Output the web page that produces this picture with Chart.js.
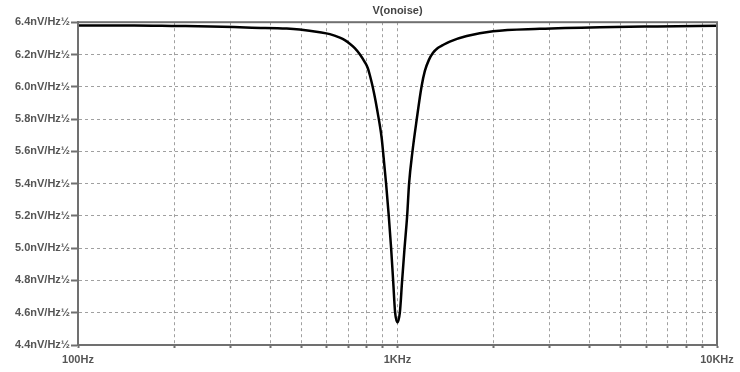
<!DOCTYPE html>
<html>
<head>
<meta charset="utf-8">
<title>V(onoise)</title>
<script src="https://cdn.jsdelivr.net/npm/chart.js@4.4.1/dist/chart.umd.min.js"></script>
<style>
  html, body { margin: 0; padding: 0; background: #fff; }
  canvas { display: block; }
</style>
</head>
<body>
<canvas id="noiseChart" width="740" height="372"></canvas>
<script>
// output noise trace (Hz -> nV/Hz½)
const freqs = [100, 150, 200, 260, 350, 450, 494, 571, 614, 660, 684, 709, 735, 762, 790, 807, 819, 831, 843, 855, 867, 880, 892, 901,
               921, 939, 955, 969, 983, 1000, 1017, 1034, 1052, 1072, 1087, 1114, 1149, 1189, 1218, 1253, 1290, 1337, 1386, 1458,
               1647, 1990, 2790, 4300, 6500, 10000];
const noise = [6.380, 6.380, 6.377, 6.374, 6.366, 6.361, 6.355, 6.338, 6.326, 6.304, 6.289, 6.267, 6.240, 6.202, 6.153, 6.116, 6.073, 6.023, 5.968, 5.906, 5.838, 5.764, 5.684, 5.600,
               5.400, 5.200, 5.000, 4.800, 4.600, 4.540, 4.600, 4.800, 5.000, 5.200, 5.400, 5.600, 5.800, 6.000, 6.098, 6.165, 6.209, 6.240, 6.258, 6.280,
               6.314, 6.344, 6.359, 6.369, 6.374, 6.378];

// axis ticks
const xGrid = [100, 200, 300, 400, 500, 600, 700, 800, 900, 1000, 2000, 3000, 4000, 5000, 6000, 7000, 8000, 9000, 10000];
const xLabels = { 100: '100Hz', 1000: '1KHz', 10000: '10KHz' };
const yTicks = [4.4, 4.6, 4.8, 5.0, 5.2, 5.4, 5.6, 5.8, 6.0, 6.2, 6.4];
const yUnit = 'nV/Hz½';

const axisColor = '#707070';
const textColor = '#555555';
const tickFont = { family: "'Liberation Sans', Arial, sans-serif", size: 11, weight: 'bold' };

// LTspice style box around the plot area
const framePlugin = {
    id: 'frame',
    afterDatasetsDraw(chart) {
        const { ctx, chartArea: a } = chart;
        ctx.save();
        ctx.strokeStyle = axisColor;
        ctx.lineWidth = 2;
        ctx.strokeRect(a.left, a.top, a.right - a.left, a.bottom - a.top);
        ctx.restore();
    }
};

const ctx = document.getElementById('noiseChart').getContext('2d');
const noiseChart = new Chart(ctx, {
    type: 'line',
    data: {
        datasets: [{
            label: 'V(onoise)',
            data: freqs.map((f, i) => ({ x: f, y: noise[i] })),
            borderColor: '#000000',
            borderWidth: 2.5,
            pointRadius: 0,
            cubicInterpolationMode: 'monotone',
            fill: false
        }]
    },
    options: {
        responsive: false,
        animation: false,
        devicePixelRatio: 1,
        layout: { padding: { left: 0, right: 23, top: 0, bottom: 0 } },
        plugins: {
            legend: { display: false },
            tooltip: { enabled: false },
            title: {
                display: true,
                text: 'V(onoise)',
                fullSize: false,
                color: '#444444',
                font: { family: "'Liberation Sans', Arial, sans-serif", size: 11, weight: 'bold' },
                padding: { top: 4, bottom: 5 }
            }
        },
        scales: {
            x: {
                type: 'logarithmic',
                min: 100,
                max: 10000,
                afterBuildTicks: (scale) => { scale.ticks = xGrid.map(v => ({ value: v })); },
                afterFit: (scale) => { scale.height = 27; },
                ticks: {
                    autoSkip: false,
                    maxRotation: 0,
                    padding: 5,
                    color: textColor,
                    font: tickFont,
                    callback: (v) => xLabels[v] || ''
                },
                grid: { color: '#a0a0a0', lineWidth: 1, tickLength: 3, tickColor: axisColor, tickWidth: 2 },
                border: { display: true, color: axisColor, width: 2, dash: [3, 3] }
            },
            y: {
                min: 4.4,
                max: 6.4,
                afterBuildTicks: (scale) => { scale.ticks = yTicks.map(v => ({ value: v })); },
                afterFit: (scale) => { scale.width = 78; },
                ticks: {
                    padding: 1,
                    color: textColor,
                    font: tickFont,
                    callback: (v) => v.toFixed(1) + yUnit
                },
                grid: { color: '#a0a0a0', lineWidth: 1, tickLength: 7, tickColor: axisColor, tickWidth: 2 },
                border: { display: true, color: axisColor, width: 2, dash: [3, 3] }
            }
        }
    },
    plugins: [framePlugin]
});
</script>
</body>
</html>
